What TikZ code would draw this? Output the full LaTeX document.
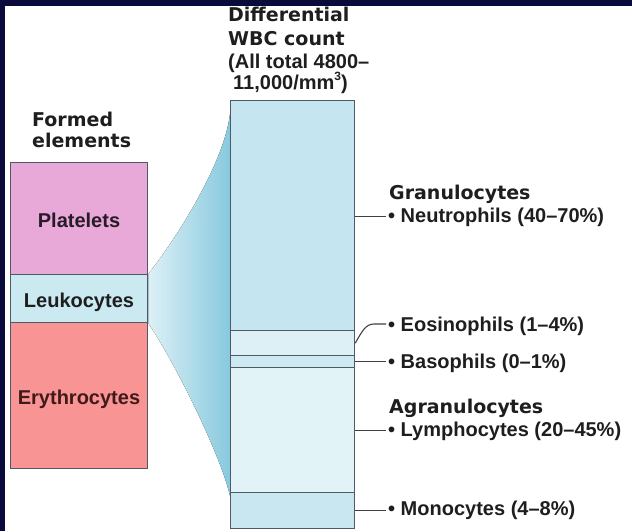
\documentclass[tikz,border=0pt]{standalone}
\usepackage{fontspec}
\setmainfont{Liberation Sans}
\newfontfamily\headfont{DejaVu Sans}
\definecolor{navy}{HTML}{0B0A3D}
\definecolor{txt}{HTML}{1E1E1E}
\definecolor{edge}{HTML}{4E5B66}
\definecolor{pinkbox}{HTML}{E8A8D8}
\definecolor{leukbox}{HTML}{CBE9F1}
\definecolor{redbox}{HTML}{F89494}
\definecolor{segA}{HTML}{C5E6F0}
\definecolor{segB}{HTML}{DCF0F6}
\definecolor{segC}{HTML}{CDE9F1}
\definecolor{segD}{HTML}{E2F3F8}
\definecolor{segE}{HTML}{C8E7F0}
\definecolor{fanL}{HTML}{DDF0F6}
\definecolor{fanR}{HTML}{88C9DE}
\tikzset{
  lab/.style={anchor=base west, inner sep=0pt, text=txt, font=\fontsize{20}{22}\selectfont\bfseries},
  head/.style={anchor=base west, inner sep=0pt, text=txt, font=\headfont\fontsize{19}{21}\selectfont\bfseries},
  boxlab/.style={anchor=base, inner sep=0pt, font=\fontsize{20}{22}\selectfont\bfseries},
  seg/.style={draw=edge, line width=1.3pt, anchor=north west, inner sep=0pt, minimum width=124pt},
  lbox/.style={draw=edge, line width=1.3pt, anchor=north west, inner sep=0pt, minimum width=137pt},
  conn/.style={draw=txt!85, line width=1.1pt}
}
\begin{document}
\begin{tikzpicture}[x=1pt,y=-1pt]
\useasboundingbox (0,0) rectangle (632,531);
\fill[white] (0,0) rectangle (632,531);
\fill[navy] (0,0) rectangle (632,6);
\fill[navy] (0,0) rectangle (5,531);

% left column
\node[lbox, fill=pinkbox, minimum height=112pt] (plat) at (10,162) {};
\node[lbox, fill=leukbox, minimum height=48pt] (leuk) at (10,274) {};
\node[lbox, fill=redbox, minimum height=146pt] (eryth) at (10,322) {};

% fan
\fill[left color=fanL, right color=fanR]
  (leuk.north east) .. controls (173,243) and (224,165) .. (230,114)
  -- (230,496) .. controls (221,455) and (173,359) .. (leuk.south east) -- cycle;

% redraw left boxes on top of the fan
\node[lbox, fill=pinkbox, minimum height=112pt] at (10,162) {};
\node[lbox, fill=leukbox, minimum height=48pt] at (10,274) {};
\node[lbox, fill=redbox, minimum height=146pt] at (10,322) {};

\node[boxlab, text=txt!90!violet] (platlab) at (79,227) {Platelets};
\node[boxlab, text=txt] (leuklab) at (79,307) {Leukocytes};
\node[boxlab, text=txt!85!red] (erylab) at (79,404) {Erythrocytes};

% right column
\node[seg, fill=segA, minimum height=230pt] (sneut) at (230,100) {};
\node[seg, fill=segB, minimum height=25pt] (seos) at (230,330) {};
\node[seg, fill=segC, minimum height=12pt] (sbaso) at (230,355) {};
\node[seg, fill=segD, minimum height=125pt] (slymph) at (230,367) {};
\node[seg, fill=segE, minimum height=36pt] (smono) at (230,492) {};

% headings
\node[head] (t1) at (228,21) {Differential};
\node[head] (t2) at (228,45) {WBC count};
\node[lab] (t3) at (228,68) {(All total 4800–};
\node[lab] (t4) at (233,89) {11,000/mm\raisebox{0.42em}{\fontsize{12}{12}\selectfont 3})};
\node[head] (f1) at (32,126) {Formed};
\node[head] (f2) at (32,147) {elements};

% labels
\node[head] (gran) at (389,199) {Granulocytes};
\node[lab] (neut) at (388,222) {• Neutrophils (40–70\%)};
\node[lab] (eos) at (388,331) {• Eosinophils (1–4\%)};
\node[lab] (baso) at (388,368) {• Basophils (0–1\%)};
\node[head] (agran) at (389,413) {Agranulocytes};
\node[lab] (lymph) at (388,436) {• Lymphocytes (20–45\%)};
\node[lab] (mono) at (388,515) {• Monocytes (4–8\%)};

% connectors
\draw[conn] (sneut.east |- neut.west) -- ([xshift=-2pt]neut.west);
\draw[conn] (seos.east) .. controls (362,331) and (366,324) .. (374,324) -- ([xshift=-2pt]eos.west |- 0,324);
\draw[conn] (sbaso.east) -- ([xshift=-2pt]baso.west |- sbaso.east);
\draw[conn] (slymph.east |- lymph.west) -- ([xshift=-2pt]lymph.west);
\draw[conn] (smono.east) -- ([xshift=-2pt]mono.west |- smono.east);
\end{tikzpicture}
\end{document}
